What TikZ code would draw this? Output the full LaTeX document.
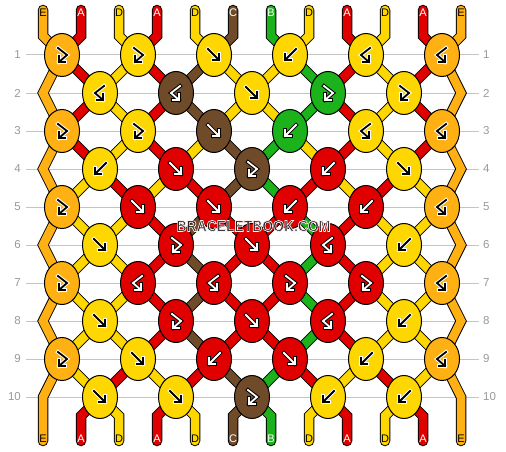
\documentclass[tikz,border=0pt]{standalone}
\usepackage{graphicx}
\usepackage{fontspec}
\setmainfont{Liberation Sans}
\usetikzlibrary{shapes.geometric}
\pgfdeclarelayer{back}
\pgfsetlayers{back,main}

\begin{document}
\begin{tikzpicture}[x=1pt,y=-1pt,
  knot/.style={ellipse,draw,line width=1,minimum width=35,minimum height=43,inner sep=0,fill=#1},
  strand/.style={line width=1,double=#1,double distance=8.5,line cap=round,line join=miter},
  arrowline/.style={line cap=rect,line join=miter},
  arrf/.style={insert path={(-6,-6) -- (5,5) (-1,5) -- (5,5) -- (5,-1)}},
  arrb/.style={insert path={(6,-6) -- (-5,5) (1,5) -- (-5,5) -- (-5,-1)}},
  arrfb/.style={insert path={(-4,-7) -- (5,0) -- (-3,7) (3,7) -- (-3,7) -- (-3,1)}},
  arrbf/.style={insert path={(4,-7) -- (-5,0) -- (3,7) (-3,7) -- (3,7) -- (3,1)}},
  rowlbl/.style={text=lblgrey,inner sep=0,font=\fontsize{11.5}{12}\selectfont},
  rowline/.style={draw=linegrey,line width=1,shorten <=5,shorten >=4},
  endlbl/.style={inner sep=0,font=\fontsize{11}{12}\selectfont},
  wmtext/.style={inner sep=0,font=\bfseries\fontsize{15.8}{16}\selectfont}]
\definecolor{colA}{HTML}{E00000}
\definecolor{colB}{HTML}{1BB21B}
\definecolor{colC}{HTML}{704B2A}
\definecolor{colD}{HTML}{FFD700}
\definecolor{colE}{HTML}{FFB114}
\definecolor{lblgrey}{HTML}{999999}
\definecolor{linegrey}{HTML}{C4C4C4}
\definecolor{wmgrey}{HTML}{262626}
\colorlet{arrA}{white}\colorlet{arrB}{white}\colorlet{arrC}{white}\colorlet{arrD}{black}\colorlet{arrE}{black}
\colorlet{haloA}{black}\colorlet{haloB}{black}\colorlet{haloC}{black}\colorlet{haloD}{white}\colorlet{haloE}{white}
\useasboundingbox (0,0) rectangle (506,452);

% knots, row by row: strand colour / knot type
\foreach \r/\row in {
  1/{E/fb,D/fb,D/f,D/b,D/bf,E/bf},
  2/{D/bf,C/bf,D/f,B/fb,D/fb},
  3/{E/fb,D/fb,C/f,B/b,D/bf,E/bf},
  4/{D/b,A/f,C/fb,A/b,D/f},
  5/{E/fb,A/f,A/f,A/b,A/b,E/bf},
  6/{D/f,A/fb,A/f,A/bf,D/b},
  7/{E/fb,A/bf,A/bf,A/fb,A/fb,E/bf},
  8/{D/f,A/fb,A/f,A/bf,D/b},
  9/{E/fb,D/f,A/b,A/f,D/b,E/bf},
  10/{D/f,D/f,C/fb,D/b,D/b}}
{
  \pgfmathsetmacro\ky{55+38*(\r-1)}
  \ifodd\r\else
    \coordinate (k\r-0) at (43,\ky);
    \coordinate (k\r-6) at (461,\ky);
  \fi
  \foreach \c/\a [count=\j] in \row {
    \pgfmathsetmacro\kx{62+76*(\j-1)+38*(1-mod(\r,2))}
    \node[knot=col\c] (k\r-\j) at (\kx,\ky) {};
    \foreach \w/\cl in {3.8/halo\c,1.8/arr\c}
      \draw[line width=\w,draw=\cl,arrowline,shift={(\kx,\ky)},arr\a];
  }
}

\foreach \s [count=\p] in {E,A,D,A,D,C,B,D,A,D,A,E} {
  \node[endlbl,text=arr\s] (t\p) at (5+38*\p,13) {\s};
  \node[endlbl,text=arr\s] (b\p) at (5+38*\p,439) {\s};
}

\begin{pgfonlayer}{back}
\foreach \r in {1,...,10} {
  \pgfmathsetmacro\ky{55+38*(\r-1)}
  \node[rowlbl,anchor=east] (ll\r) at (21,\ky) {\r};
  \node[rowlbl,anchor=west] (rl\r) at (483,\ky) {\r};
  \draw[rowline] (ll\r) -- (rl\r);
}
% strands between rows, colours by position after each row
\foreach \g/\seq in {
  1/{E,A,D,A,C,D,D,B,A,D,A,E},
  2/{E,A,D,A,C,D,D,B,A,D,A,E},
  3/{E,A,D,A,D,C,B,D,A,D,A,E},
  4/{E,D,A,D,A,C,B,A,D,A,D,E},
  5/{E,D,D,A,C,A,A,B,A,D,D,E},
  6/{E,D,D,A,C,A,A,B,A,D,D,E},
  7/{E,D,D,A,C,A,A,B,A,D,D,E},
  8/{E,D,D,A,C,A,A,B,A,D,D,E},
  9/{E,D,A,D,A,C,B,A,D,A,D,E}}
{
  \pgfmathtruncatemacro\gn{\g+1}
  \foreach \s [count=\p] in \seq {
    \ifnum\p>1 \ifnum\p<12
      \pgfmathtruncatemacro\ja{floor((\p+mod(\g,2))/2)}
      \pgfmathtruncatemacro\jb{floor((\p+1-mod(\g,2))/2)}
      \draw[strand=col\s] (k\g-\ja.center) -- (k\gn-\jb.center);
    \fi\fi
  }
}
\foreach \s [count=\p] in {E,A,D,A,D,C,B,D,A,D,A,E} {
  \pgfmathtruncatemacro\j{floor((\p+1)/2)}
  \draw[strand=col\s] ([yshift=3pt]t\p.center) -- ++(0,26) -- (k1-\j.center);
}
\foreach \s [count=\p from 2] in {A,D,A,D,C,B,D,A,D,A} {
  \pgfmathtruncatemacro\j{floor(\p/2)}
  \draw[strand=col\s] ([yshift=-2pt]b\p.center) -- ++(0,-25) -- (k10-\j.center);
}
\foreach \sd/\j/\p in {0/1/1,6/6/12}
  \draw[strand=colE] (k1-\j.center) -- (k2-\sd) -- (k3-\j.center) -- (k4-\sd) -- (k5-\j.center)
    -- (k6-\sd) -- (k7-\j.center) -- (k8-\sd) -- (k9-\j.center) -- (k10-\sd) -- ([yshift=-2pt]b\p.center);
\end{pgfonlayer}

\node[wmtext,text=wmgrey] (wm) at (253.5,226)
  {\special{pdf:literal direct 2 Tr 0.75 w 1 0.93 0.93 RG}\scalebox{0.88}[1]{BRACELETBOOK.COM}\special{pdf:literal direct 0 Tr}};
\end{tikzpicture}
\end{document}
